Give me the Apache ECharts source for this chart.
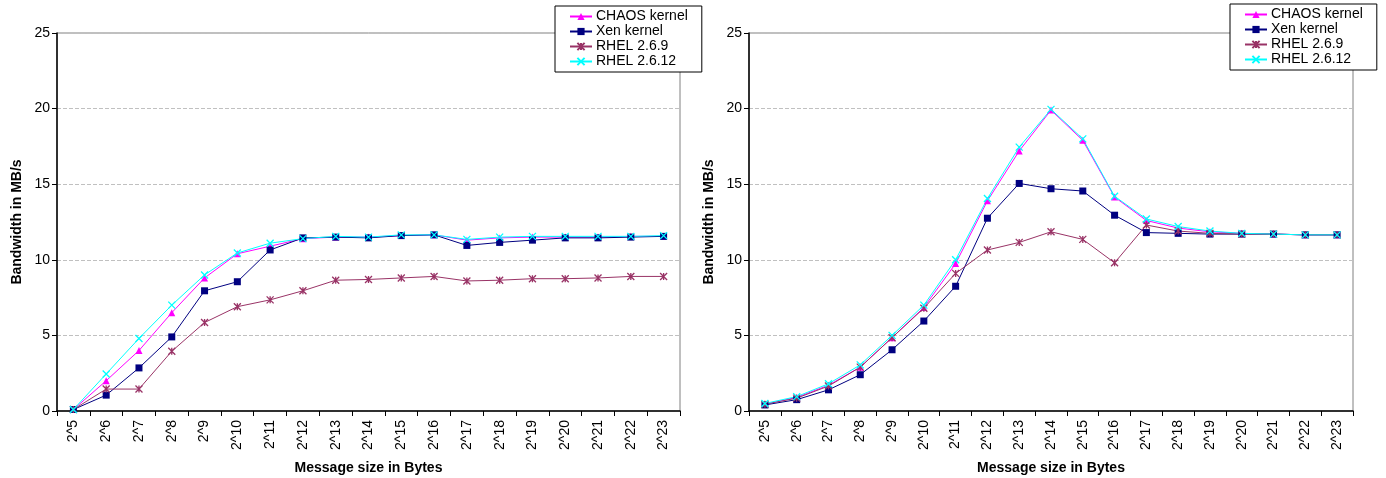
<!DOCTYPE html>
<html>
<head>
<meta charset="utf-8">
<script src="https://cdn.jsdelivr.net/npm/echarts@6/dist/echarts.min.js"></script>
<style>
  html, body { margin: 0; padding: 0; background: #fff; }
  #chart { width: 1386px; height: 478px; }
</style>
</head>
<body>
<div id="chart"></div>
<script>
// message sizes
const sizes = ['2^5', '2^6', '2^7', '2^8', '2^9', '2^10', '2^11', '2^12', '2^13', '2^14',
  '2^15', '2^16', '2^17', '2^18', '2^19', '2^20', '2^21', '2^22', '2^23']
const seriesNames = ['CHAOS kernel', 'Xen kernel', 'RHEL 2.6.9', 'RHEL 2.6.12']

// left chart
const leftChaos = [0.1, 2.0, 4.0, 6.5, 8.8, 10.4, 10.9, 11.4, 11.5, 11.5, 11.6, 11.65, 11.3, 11.45, 11.5, 11.5, 11.5, 11.55, 11.55]
const leftXen = [0.1, 1.05, 2.85, 4.9, 7.95, 8.55, 10.65, 11.45, 11.5, 11.45, 11.6, 11.65, 10.95, 11.15, 11.3, 11.45, 11.45, 11.5, 11.55]
const leftRhel269 = [0.1, 1.45, 1.45, 3.95, 5.85, 6.9, 7.35, 7.95, 8.65, 8.7, 8.8, 8.9, 8.6, 8.65, 8.75, 8.75, 8.8, 8.9, 8.9]
const leftRhel2612 = [0.1, 2.45, 4.8, 7.0, 9.0, 10.45, 11.1, 11.4, 11.55, 11.5, 11.65, 11.65, 11.35, 11.5, 11.55, 11.55, 11.55, 11.55, 11.6]

// right chart
const rightChaos = [0.45, 0.9, 1.7, 2.9, 4.85, 6.85, 9.75, 13.9, 17.2, 19.9, 17.9, 14.15, 12.6, 12.1, 11.85, 11.75, 11.7, 11.65, 11.65]
const rightXen = [0.4, 0.75, 1.4, 2.4, 4.05, 5.95, 8.25, 12.75, 15.05, 14.7, 14.55, 12.95, 11.8, 11.75, 11.7, 11.7, 11.7, 11.65, 11.65]
const rightRhel269 = [0.45, 0.85, 1.65, 2.9, 4.85, 6.8, 9.1, 10.65, 11.15, 11.85, 11.35, 9.8, 12.3, 11.9, 11.75, 11.7, 11.7, 11.65, 11.65]
const rightRhel2612 = [0.5, 0.95, 1.8, 3.05, 5.0, 7.0, 10.0, 14.05, 17.45, 19.95, 18.0, 14.2, 12.7, 12.2, 11.9, 11.75, 11.7, 11.65, 11.65]

const FONT = 'Liberation Sans, Arial, sans-serif'

// 系列样式
const styles = [
  { color: '#ff00ff', symbol: 'triangle', size: 7 },
  { color: '#000080', symbol: 'rect', size: 7 },
  { color: '#993366', symbol: 'path://M0,0L10,10M10,0L0,10M5,0L5,10', size: 7 },
  { color: '#00ffff', symbol: 'path://M0,0L10,10M10,0L0,10', size: 7 }
]

const makeSeries = (data, idx, axisIdx) => {
  const st = styles[idx]
  const isPath = st.symbol.startsWith('path')
  return {
    name: seriesNames[idx],
    type: 'line',
    xAxisIndex: axisIdx,
    yAxisIndex: axisIdx,
    data: data,
    symbol: st.symbol,
    symbolSize: st.size,
    showAllSymbol: true,
    animation: false,
    lineStyle: { color: st.color, width: 1 },
    itemStyle: {
      color: st.color,
      borderColor: st.color,
      borderWidth: isPath ? 1.3 : 0
    }
  }
}

const makeX = (gridIndex) => ({
  type: 'category',
  gridIndex: gridIndex,
  data: sizes,
  boundaryGap: true,
  name: 'Message size in Bytes',
  nameLocation: 'middle',
  nameGap: 50,
  nameMoveOverlap: false,
  nameTextStyle: { fontFamily: FONT, fontSize: 14, fontWeight: 'bold', color: '#000' },
  axisLine: { lineStyle: { color: '#000', width: 1.5 } },
  axisTick: { show: true, interval: 0, length: 5, lineStyle: { color: '#000' } },
  axisLabel: { interval: 0, rotate: 90, margin: 9, fontFamily: FONT, fontSize: 14, color: '#000' },
  splitLine: { show: false }
})

const makeY = (gridIndex) => ({
  type: 'value',
  gridIndex: gridIndex,
  min: 0,
  max: 25,
  interval: 5,
  name: 'Bandwidth in MB/s',
  nameLocation: 'middle',
  nameGap: 33,
  nameMoveOverlap: false,
  nameTextStyle: { fontFamily: FONT, fontSize: 14, fontWeight: 'bold', color: '#000' },
  axisLine: { show: true, lineStyle: { color: '#000', width: 1.5 } },
  axisTick: { show: true, length: 5, lineStyle: { color: '#000' } },
  axisLabel: { margin: 7, fontFamily: FONT, fontSize: 14, color: '#000' },
  splitLine: { show: true, lineStyle: { color: '#c0c0c0', type: 'dashed' } }
})

const makeLegend = (left, top) => ({
  orient: 'vertical',
  left: left,
  top: top,
  data: seriesNames,
  itemWidth: 22,
  itemHeight: 9,
  itemGap: 0,
  padding: [3, 14, 3, 14],
  backgroundColor: '#fff',
  borderColor: '#000',
  borderWidth: 1,
  textStyle: { fontFamily: FONT, fontSize: 14, lineHeight: 15, color: '#000', padding: [0, 0, 0, -1] }
})

const chart = echarts.init(document.getElementById('chart'))

chart.setOption({
  backgroundColor: '#fff',
  animation: false,
  grid: [
    { left: 57, top: 33, width: 623, height: 378, show: true, borderColor: '#808080', borderWidth: 1, backgroundColor: 'transparent', outerBoundsMode: 'none' },
    { left: 749, top: 33, width: 604, height: 378, show: true, borderColor: '#808080', borderWidth: 1, backgroundColor: 'transparent', outerBoundsMode: 'none' }
  ],
  legend: [makeLegend(555, 6), makeLegend(1230, 4)],
  xAxis: [makeX(0), makeX(1)],
  yAxis: [makeY(0), makeY(1)],
  series: [
    makeSeries(leftChaos, 0, 0),
    makeSeries(leftXen, 1, 0),
    makeSeries(leftRhel269, 2, 0),
    makeSeries(leftRhel2612, 3, 0),
    makeSeries(rightChaos, 0, 1),
    makeSeries(rightXen, 1, 1),
    makeSeries(rightRhel269, 2, 1),
    makeSeries(rightRhel2612, 3, 1)
  ]
})
</script>
</body>
</html>
